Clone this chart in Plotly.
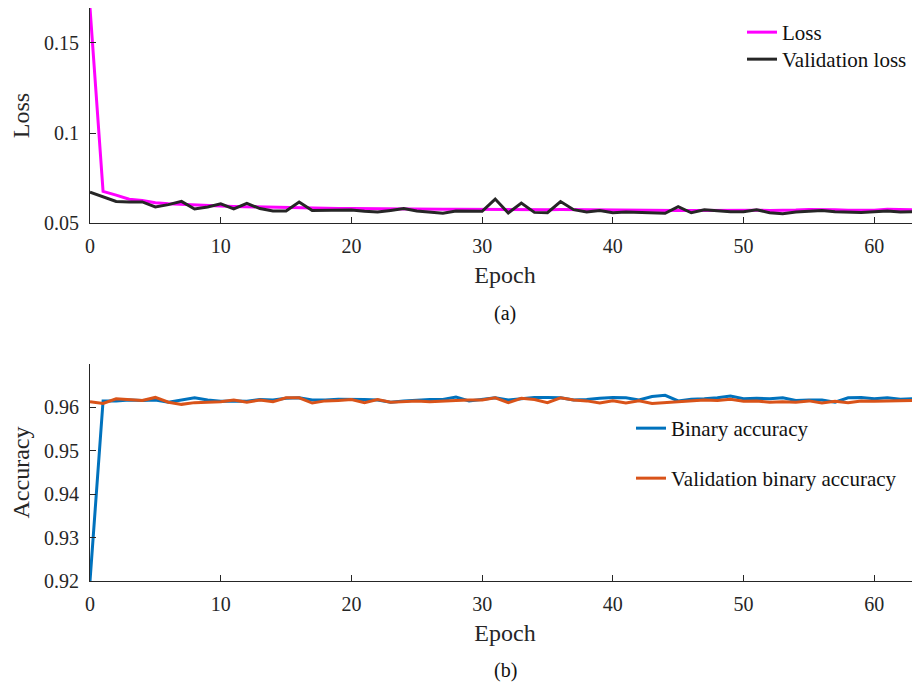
import plotly.graph_objects as go

epochs = list(range(0, 65))

loss = [0.1695, 0.0676, 0.0655, 0.0632, 0.0625, 0.0612, 0.0607, 0.0603, 0.0600, 0.0596,
        0.0594, 0.0592, 0.0590, 0.0588, 0.0586, 0.0584, 0.0583, 0.0582, 0.0581, 0.0580,
        0.0580, 0.0579, 0.0578, 0.0578, 0.0579, 0.0577, 0.0576, 0.0576, 0.0577, 0.0576,
        0.0576, 0.0577, 0.0576, 0.0575, 0.0575, 0.0574, 0.0575, 0.0574, 0.0573, 0.0573,
        0.0572, 0.0573, 0.0571, 0.0570, 0.0570, 0.0570, 0.0570, 0.0571, 0.0570, 0.0569,
        0.0570, 0.0571, 0.0570, 0.0569, 0.0572, 0.0575, 0.0576, 0.0574, 0.0571, 0.0570,
        0.0571, 0.0577, 0.0574, 0.0574, 0.0574]

val_loss = [0.0672, 0.0648, 0.0620, 0.0617, 0.0617, 0.0589, 0.0602, 0.0620, 0.0578, 0.0589,
            0.0607, 0.0578, 0.0609, 0.0580, 0.0567, 0.0567, 0.0617, 0.0569, 0.0569, 0.0569,
            0.0572, 0.0565, 0.0561, 0.0570, 0.0580, 0.0567, 0.0561, 0.0554, 0.0567, 0.0567,
            0.0565, 0.0633, 0.0556, 0.0611, 0.0559, 0.0557, 0.0619, 0.0574, 0.0561, 0.0570,
            0.0557, 0.0561, 0.0559, 0.0556, 0.0554, 0.0591, 0.0557, 0.0574, 0.0567, 0.0563,
            0.0563, 0.0574, 0.0557, 0.0552, 0.0561, 0.0567, 0.0570, 0.0563, 0.0561, 0.0559,
            0.0563, 0.0567, 0.0561, 0.0563, 0.0563]

acc = [0.9200, 0.9615, 0.9615, 0.9617, 0.9616, 0.9617, 0.9612, 0.9617, 0.9622, 0.9617,
       0.9614, 0.9615, 0.9614, 0.9618, 0.9617, 0.9621, 0.9622, 0.9617, 0.9617, 0.9619,
       0.9619, 0.9618, 0.9617, 0.9612, 0.9615, 0.9617, 0.9618, 0.9618, 0.9624, 0.9615,
       0.9618, 0.9622, 0.9617, 0.9620, 0.9623, 0.9623, 0.9622, 0.9617, 0.9618, 0.9621,
       0.9623, 0.9622, 0.9617, 0.9625, 0.9628, 0.9615, 0.9619, 0.9620, 0.9622, 0.9626,
       0.9620, 0.9621, 0.9620, 0.9622, 0.9616, 0.9617, 0.9617, 0.9612, 0.9622, 0.9623,
       0.9620, 0.9622, 0.9619, 0.9620, 0.9620]

val_acc = [0.9613, 0.9609, 0.9620, 0.9618, 0.9616, 0.9623, 0.9612, 0.9607, 0.9611, 0.9612,
           0.9613, 0.9617, 0.9612, 0.9617, 0.9613, 0.9622, 0.9622, 0.9610, 0.9615, 0.9616,
           0.9618, 0.9611, 0.9618, 0.9612, 0.9614, 0.9615, 0.9613, 0.9615, 0.9616, 0.9617,
           0.9617, 0.9622, 0.9611, 0.9621, 0.9618, 0.9611, 0.9622, 0.9617, 0.9615, 0.9610,
           0.9615, 0.9610, 0.9615, 0.9609, 0.9611, 0.9612, 0.9615, 0.9617, 0.9616, 0.9619,
           0.9614, 0.9615, 0.9612, 0.9613, 0.9612, 0.9615, 0.9610, 0.9614, 0.9611, 0.9615,
           0.9614, 0.9615, 0.9615, 0.9617, 0.9617]

x_ticks = [0, 10, 20, 30, 40, 50, 60]
loss_ticks = [0.05, 0.1, 0.15]
loss_ticklabels = ["0.05", "0.1", "0.15"]
acc_ticks = [0.92, 0.93, 0.94, 0.95, 0.96]
acc_ticklabels = ["0.92", "0.93", "0.94", "0.95", "0.96"]

FONT = "Times New Roman, Liberation Serif, serif"
AX = "#262626"
TXT = "#111111"
W, H = 920, 690
OFF = 8  # page body margin offset

def py(p):
    """reference-window pixel y -> paper fraction"""
    return 1 - (p - OFF) / H

def px(p):
    """reference-window pixel x -> paper fraction (plot area 90..920)"""
    return (p - 90) / 830

fig = go.Figure()
fig.add_trace(go.Scatter(x=epochs, y=loss, mode="lines", name="Loss", showlegend=True,
                         line=dict(color="#FF00FF", width=3), xaxis="x", yaxis="y",
                         legend="legend"))
fig.add_trace(go.Scatter(x=epochs, y=val_loss, mode="lines", name="Validation loss",
                         showlegend=True,
                         line=dict(color="#262626", width=3), xaxis="x", yaxis="y",
                         legend="legend2"))
fig.add_trace(go.Scatter(x=epochs, y=acc, mode="lines", name="Binary accuracy",
                         showlegend=True,
                         line=dict(color="#0072BD", width=3), xaxis="x2", yaxis="y2",
                         legend="legend3"))
fig.add_trace(go.Scatter(x=epochs, y=val_acc, mode="lines", name="Validation binary accuracy",
                         showlegend=True,
                         line=dict(color="#D95319", width=3), xaxis="x2", yaxis="y2",
                         legend="legend4"))

axis_common = dict(showline=True, linecolor=AX, linewidth=1, ticks="inside", ticklen=6,
                   tickcolor=AX, tickwidth=1, showgrid=False, zeroline=False,
                   tickfont=dict(family=FONT, size=20, color=AX))
xcommon = dict(ticklabelstandoff=5,
               title=dict(text="Epoch", font=dict(family=FONT, size=24, color=AX), standoff=10))

def leg(row_y, text_x):
    return dict(x=px(text_x - 40), y=py(row_y - 21), xanchor="left", yanchor="top",
                bgcolor="rgba(0,0,0,0)", font=dict(family=FONT, size=21, color=TXT),
                visible=True)

fig.update_layout(
    width=W, height=H,
    showlegend=True,
    margin=dict(l=90 - OFF, r=OFF, t=0, b=0, autoexpand=False),
    paper_bgcolor="white", plot_bgcolor="white",
    font=dict(family=FONT, color=AX),
    xaxis=dict(domain=[0, 1], range=[0, 63.5], tickvals=x_ticks, anchor="y",
               **xcommon, **axis_common),
    yaxis=dict(domain=[py(223), 1], range=[0.05, 0.16944], tickvals=loss_ticks,
               ticktext=loss_ticklabels, anchor="x", ticklabelstandoff=6,
               title=dict(text="Loss", font=dict(family=FONT, size=24, color=AX), standoff=10),
               **axis_common),
    xaxis2=dict(domain=[0, 1], range=[0, 63.5], tickvals=x_ticks, anchor="y2",
                **xcommon, **axis_common),
    yaxis2=dict(domain=[py(581), py(364)], range=[0.92, 0.97], tickvals=acc_ticks,
                ticktext=acc_ticklabels, anchor="x2", ticklabelstandoff=6,
                title=dict(text="Accuracy", font=dict(family=FONT, size=24, color=AX), standoff=10),
                **axis_common),
    legend=leg(33, 782),
    legend2=leg(60, 782),
    legend3=leg(429, 671),
    legend4=leg(479, 671),
    annotations=[
        dict(text="(a)", x=0.5, y=py(313), xref="paper", yref="paper", showarrow=False,
             xanchor="center", yanchor="middle", font=dict(family=FONT, size=20, color=TXT)),
        dict(text="(b)", x=0.5, y=py(670), xref="paper", yref="paper", showarrow=False,
             xanchor="center", yanchor="middle", font=dict(family=FONT, size=20, color=TXT)),
    ],
)

fig.write_html("out.html")
